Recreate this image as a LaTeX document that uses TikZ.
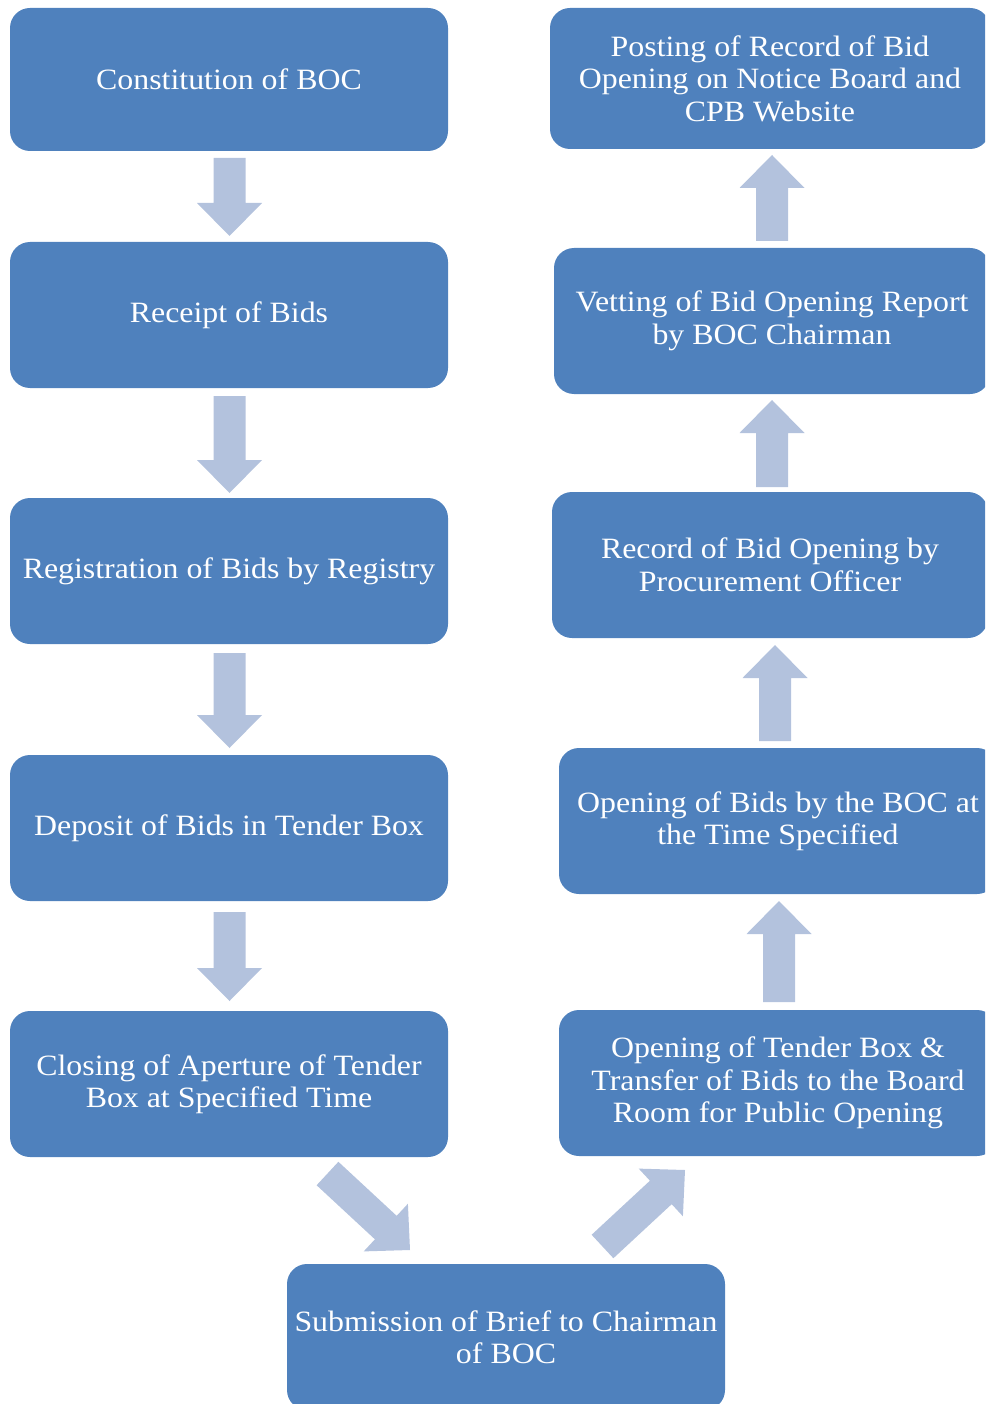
\documentclass[tikz,border=0pt]{standalone}
\usepackage{fontspec}
\setmainfont{Liberation Serif}[FakeStretch=1.08]
\usetikzlibrary{calc}
\definecolor{boxblue}{HTML}{4F81BD}
\definecolor{arrowblue}{HTML}{B3C2DD}
\tikzset{
  stepbox/.style={fill=boxblue, rounded corners=20pt, minimum width=438pt,
    minimum height=146pt, text=white, align=center, inner sep=0pt,
    font=\fontsize{29.5}{32.5}\selectfont},
  blockarrow/.style={fill=arrowblue, draw=none}
}
\newcommand\blockarr[2]{%
  \coordinate (tmpH) at ($(#2)!33pt!(#1)$);
  \path[blockarrow] ($(#1)!16pt!90:(#2)$) -- ($(tmpH)!16pt!90:(#2)$)
    -- ($(tmpH)!32.5pt!90:(#2)$) -- (#2) -- ($(tmpH)!32.5pt!-90:(#2)$)
    -- ($(tmpH)!16pt!-90:(#2)$) -- ($(#1)!16pt!-90:(#2)$) -- cycle;}
\begin{document}
\begin{tikzpicture}[x=1pt,y=-1pt]
\useasboundingbox (0,0) rectangle (985,1404);
\clip (0,0) rectangle (985,1404);
% left column
\node[stepbox, minimum height=143pt] (b1) at (229,79.5) {Constitution of BOC};
\node[stepbox] (b2) at (229,315) {Receipt of Bids};
\node[stepbox] (b3) at (229,571) {Registration of Bids by Registry};
\node[stepbox] (b4) at (229,828) {Deposit of Bids in Tender Box};
\node[stepbox] (b5) at (229,1084) {Closing of Aperture of Tender\\Box at Specified Time};
% bottom
\node[stepbox] (bot) at (506,1337) {Submission of Brief to Chairman\\of BOC};
% right column
\node[stepbox, minimum width=440pt, minimum height=141pt] (r1) at (770,78.5) {Posting of Record of Bid\\Opening on Notice Board and\\CPB Website};
\node[stepbox, minimum width=436pt] (r2) at (772,321) {Vetting of Bid Opening Report\\by BOC Chairman};
\node[stepbox, minimum width=436pt] (r3) at (770,565) {Record of Bid Opening by\\Procurement Officer};
\node[stepbox] (r4) at (778,821) {Opening of Bids by the BOC at\\the Time Specified};
\node[stepbox] (r5) at (778,1083) {Opening of Tender Box \&\\Transfer of Bids to the Board\\Room for Public Opening};
% arrow ends
\coordinate (a1s) at (229.5,158);  \coordinate (a1e) at (229.5,236);
\coordinate (a2s) at (229.5,396);  \coordinate (a2e) at (229.5,493);
\coordinate (a3s) at (229.5,653);  \coordinate (a3e) at (229.5,748);
\coordinate (a4s) at (229.5,912);  \coordinate (a4e) at (229.5,1001);
\coordinate (d1s) at (327.5,1173.5); \coordinate (d1e) at (410,1250);
\coordinate (d2s) at (602.5,1246.5); \coordinate (d2e) at (685,1170);
\coordinate (u4s) at (779,1002); \coordinate (u4e) at (779,901);
\coordinate (u3s) at (775,741);  \coordinate (u3e) at (775,645);
\coordinate (u2s) at (772,487);  \coordinate (u2e) at (772,400);
\coordinate (u1s) at (772,241);  \coordinate (u1e) at (772,155);
\blockarr{a1s}{a1e}
\blockarr{a2s}{a2e}
\blockarr{a3s}{a3e}
\blockarr{a4s}{a4e}
\blockarr{d1s}{d1e}
\blockarr{d2s}{d2e}
\blockarr{u4s}{u4e}
\blockarr{u3s}{u3e}
\blockarr{u2s}{u2e}
\blockarr{u1s}{u1e}
\end{tikzpicture}
\end{document}
